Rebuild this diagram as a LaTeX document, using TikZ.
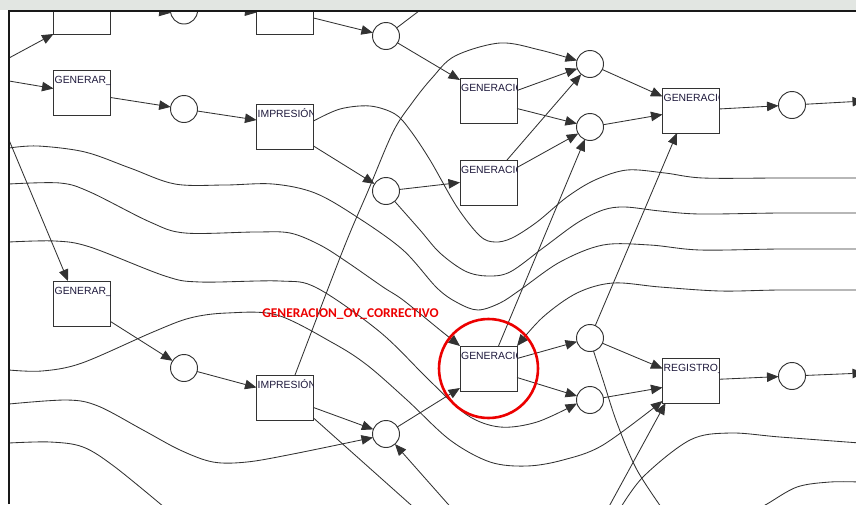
\documentclass[tikz,border=0pt]{standalone}
\usepackage{fontspec}
\newfontfamily\boxfont{Liberation Sans}
\newfontfamily\tagfont{Carlito}
\usepackage{tikz}
\usetikzlibrary{arrows.meta}
\definecolor{edge}{RGB}{50,50,50}
\definecolor{boxink}{RGB}{30,25,60}
\definecolor{redmark}{RGB}{236,0,0}
\definecolor{wm}{RGB}{226,230,226}

\newcommand\boxtxt[2]{%
  \begin{scope}
    \clip (#1.south west) rectangle (#1.north east);
    \node[btxt] (#1-t) at ([xshift=1pt,yshift=-13pt]#1.north west) {#2};
  \end{scope}}

\begin{document}
\begin{tikzpicture}[x=1pt, y=-1pt, >={Triangle[length=11.5pt,width=9.5pt]},
  trans/.style={draw=black!80, line width=0.95pt, minimum width=57pt, minimum height=45pt, inner sep=0pt, outer sep=0pt, fill=white},
  place/.style={circle, draw=black!80, line width=0.95pt, minimum size=27pt, inner sep=0pt, outer sep=0pt, fill=white},
  btxt/.style={anchor=base west, inner sep=0pt, font={\boxfont\fontsize{10.4pt}{12pt}\selectfont}, text=boxink},
  wire/.style={draw=edge, line width=0.85pt},
  ring/.style={draw=redmark, line width=2.6pt},
  redlbl/.style={anchor=base, inner sep=0pt, text=redmark, font={\tagfont\bfseries\fontsize{13.4pt}{15pt}\selectfont}}]
\useasboundingbox (0,0) rectangle (856,504);
\fill[wm] (0,0) rectangle (856,10);

\begin{scope}
\clip (9,11) rectangle (856,504);

\node[trans] (topA) at (82,11.5) {};
\node[trans] (topB) at (285,11.5) {};
\node[trans] (genA) at (82,92.5) {};
\node[trans] (impA) at (285,127) {};
\node[trans] (gnA) at (488.5,100.5) {};
\node[trans] (gnB) at (488.5,182.5) {};
\node[trans] (gnC) at (691,110.5) {};
\node[trans] (genB) at (82,303.5) {};
\node[trans] (impB) at (285,397.5) {};
\node[trans] (gnD) at (488.5,368.5) {};
\node[trans] (reg) at (691,380.5) {};

\node[place] (s0) at (184,10.5) {};
\node[place] (s1) at (386,36) {};
\node[place] (s2) at (184,109) {};
\node[place] (s3) at (386,191) {};
\node[place] (s4) at (590,64) {};
\node[place] (s5) at (590,127) {};
\node[place] (s6) at (792,105) {};
\node[place] (s7) at (184,368) {};
\node[place] (s8) at (386,434) {};
\node[place] (s9) at (590,338) {};
\node[place] (s10) at (590,400) {};
\node[place] (s11) at (792,376) {};

\coordinate (inA) at (9,58);
\coordinate (inB) at (9,81);
\coordinate (inC) at (9,140);
\coordinate (inD) at (9,148);
\coordinate (inE) at (9,184);
\coordinate (inF) at (9,242);
\coordinate (inG) at (9,370);
\coordinate (inH) at (9,404);
\coordinate (inI) at (9,443);
\coordinate (upA) at (440,-5);
\coordinate (outA) at (860,178);
\coordinate (outB) at (860,213);
\coordinate (outC) at (860,249);
\coordinate (outD) at (860,290);
\coordinate (outE) at (860,443);
\coordinate (outF) at (860,482);
\coordinate (outG) at (864,101);
\coordinate (outH) at (864,373);
\coordinate (dnA) at (170,512);
\coordinate (dnB) at (420,513);
\coordinate (dnC) at (455,512);
\coordinate (dnD) at (606,512);
\coordinate (dnE) at (666,514);
\coordinate (dnF) at (618,512);
\coordinate (dnG) at (752,512);

% top rows
\draw[wire,->] (inA) -- (topA.south west);
\draw[wire,->] (inB) -- ([yshift=4pt]genA.west);
\draw[wire,->] (inC) -- ([xshift=-14pt]genB.north);
\draw[wire,->] ([yshift=6pt]topA.east) -- (s0.190);
\draw[wire,->] ([yshift=5pt]s0.east) -- ([yshift=-1pt]topB.west);
\draw[wire,->] ([yshift=-6.5pt]topB.east) -- (s1);
\draw[wire] (s1) -- (upA);
\draw[wire,->] (s1) -- ([yshift=-2pt]gnA.north west);
\draw[wire,->] ([yshift=-5pt]genA.east) -- (s2);
\draw[wire,->] (s2) -- ([yshift=7pt]impA.west);
\draw[wire,->] ([yshift=3.5pt]impA.south east) -- (s3);
\draw[wire,->] (s3) -- (gnB.west);
\draw[wire,->] ([yshift=10pt]gnA.east) -- (s4);
\draw[wire,->] ([yshift=-8pt]gnA.east) -- (s5);
\draw[wire,->] ([xshift=-10pt]gnB.north east) -- (s4);
\draw[wire,->] ([yshift=15pt]gnB.east) -- (s5);
\draw[wire,->] (s4) -- ([yshift=14pt]gnC.west);
\draw[wire,->] (s5) -- ([yshift=-4pt]gnC.west);
\draw[wire,->] (gnC) -- (s6);
\draw[wire,->] (s6) -- (outG);

% bottom rows
\draw[wire,->] ([yshift=-18pt]genB.east) -- (s7);
\draw[wire,->] (s7) -- ([yshift=10pt]impB.west);
\draw[wire,->] ([yshift=-10pt]impB.east) -- (s8);
\draw[wire] ([yshift=2pt]impB.south east) -- (dnB);
\draw[wire,->] (dnC) -- (s8);
\draw[wire,->] (s8) -- ([yshift=3pt]gnD.south west);
\draw[wire,->] ([yshift=10pt]gnD.east) -- (s9);
\draw[wire,->] ([yshift=-9pt]gnD.east) -- (s10);
\draw[wire,->] ([xshift=10pt]gnD.north) -- (s5);
\draw[wire,->] (s9) -- ([xshift=-14pt]gnC.south);
\draw[wire,->] (s9) -- ([yshift=12pt]reg.west);
\draw[wire,->] (s10) -- ([yshift=-7pt]reg.west);
\draw[wire,->] (dnD) -- ([xshift=3pt]reg.south west);
\draw[wire,->] (reg) -- (s11);
\draw[wire,->] (s11) -- (outH);

% long curves
\draw[wire,->] plot[smooth,tension=0.55] coordinates {([xshift=10pt]impB.north) (343,250) (368,191) (393,132) (412,103) (432,78) (455,56) (500,43) (540,50) (s4.165)};
\draw[wire] plot[smooth,tension=0.55] coordinates {([yshift=6pt]impA.east) (340,109) (370,106) (395,114) (410,130) (430,160) (457,207) (480,236) (495,242) (512,238) (537,222) (567,197) (595,180) (627,170) (665,173) (703,178) (780,178) (outA)};
\draw[wire] plot[smooth,tension=0.55] coordinates {(s3.-50) (420,230) (440,253) (465,271) (487,276) (510,272) (543,248) (577,223) (603,210) (625,207) (660,211) (700,214) (780,213) (outB)};
\draw[wire] plot[smooth,tension=0.55] coordinates {(inD) (38,146) (85,152) (130,168) (175,184) (225,185) (273,184) (315,193) (357,217) (403,250) (437,288) (458,303) (478,310) (500,303) (520,290) (560,262) (603,245) (650,245) (700,250) (780,249) (outC)};
\draw[wire,->] plot[smooth,tension=0.55] coordinates {(inE) (60,183) (90,192) (150,222) (185,233) (255,232) (290,233) (320,245) (347,262) (383,287) (403,300) (440,330) (gnD.north west)};
\draw[wire,->] plot[smooth,tension=0.55] coordinates {(inF) (55,241) (90,247) (165,276) (200,282) (280,281) (317,288) (380,332) (430,381) (467,415) (500,427) (537,422) (s10.195)};
\draw[wire,->] plot[smooth,tension=0.55] coordinates {(inG) (42,371) (82,363) (153,332) (190,318) (227,313) (277,315) (333,343) (367,365) (407,400) (450,440) (490,462) (527,466) (563,460) (603,445) ([yshift=2pt]reg.south west)};
\draw[wire,->] plot[smooth,tension=0.55] coordinates {(inH) (67,400) (98,406) (143,430) (180,450) (213,462) (247,462) (293,454) (s8.195)};
\draw[wire] plot[smooth,tension=0.55] coordinates {(inI) (50,442) (83,447) (115,467) (dnA)};
\draw[wire,->] plot[smooth,tension=0.55] coordinates {(outD) (780,290) (720,291) (660,287) (613,283) (577,293) (543,317) (gnD.north east)};
\draw[wire] plot[smooth,tension=0.55] coordinates {(s9.-75) (603,380) (617,423) (637,470) (dnE)};
\draw[wire] plot[smooth,tension=0.55] coordinates {(dnF) (643,477) (690,440) (730,433) (780,437) (outE)};
\draw[wire] plot[smooth,tension=0.55] coordinates {(dnG) (767,504) (797,487) (830,482) (outF)};

\boxtxt{genA}{GENERAR\_}
\boxtxt{impA}{IMPRESIÓN}
\boxtxt{gnA}{GENERACIO}
\boxtxt{gnB}{GENERACIO}
\boxtxt{gnC}{GENERACIO}
\boxtxt{genB}{GENERAR\_}
\boxtxt{impB}{IMPRESIÓN}
\boxtxt{gnD}{GENERACIO}
\boxtxt{reg}{REGISTRO\_}

\draw[ring] (gnD.center) circle[radius=49.5pt];
\node[redlbl] (tag) at (350.5,317) {GENERACION\_OV\_CORRECTIVO};
\end{scope}

\draw[black!90, line width=2pt] (9,504) -- (9,11) -- (856,11);
\end{tikzpicture}
\end{document}
